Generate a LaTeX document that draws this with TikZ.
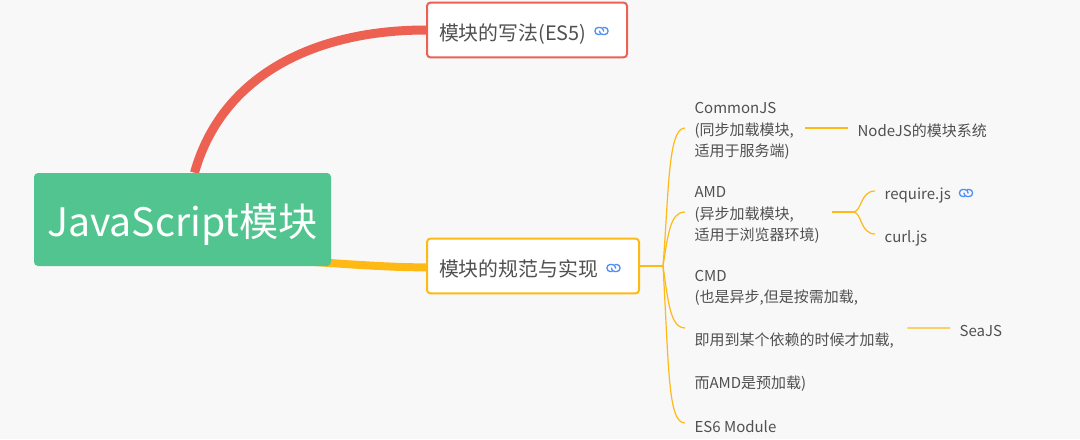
\documentclass[tikz,border=0pt]{standalone}
\usepackage{fontspec}
\setmainfont{Noto Sans CJK SC}
\usetikzlibrary{backgrounds}
\definecolor{bgcolor}{HTML}{F8F8F8}
\definecolor{rootgreen}{HTML}{52C48F}
\definecolor{redline}{HTML}{EC6152}
\definecolor{yellowline}{HTML}{FFB914}
\definecolor{textgrey}{HTML}{505050}
\definecolor{linkblue}{HTML}{4F8EF7}
\tikzstyle{rootbox} = [rectangle, rounded corners=3pt, minimum width=222.75pt, minimum height=69.75pt, inner sep=0pt, fill=rootgreen, text=white, font=\fontsize{29.4pt}{34pt}\selectfont]
\tikzstyle{mainbox} = [rectangle, rounded corners=2.5pt, minimum height=41pt, inner xsep=9pt, align=left, line width=1.5pt, fill=white, text=textgrey, font=\fontsize{14.9pt}{18pt}\selectfont]
\tikzstyle{leaf} = [inner xsep=7pt, inner ysep=0pt, align=left, text=textgrey, font=\fontsize{11.25pt}{16pt}\selectfont]
\tikzstyle{redbranch} = [line width=6.75pt, draw=redline]
\tikzstyle{yellowbranch} = [line width=6pt, draw=yellowline]
\tikzstyle{twig} = [line width=0.9pt, draw=yellowline]
\tikzset{linkicon/.pic={
  \draw [line width=1pt, draw=linkblue, rounded corners=2.4pt] (2,0.5) -- (2,-3.5) -- (-6.5,-3.5) -- (-6.5,3.5) -- (-1,3.5);
  \draw [line width=1pt, draw=linkblue, rounded corners=2.4pt] (-2,-0.5) -- (-2,3.5) -- (6.5,3.5) -- (6.5,-3.5) -- (1,-3.5);
}}

\begin{document}
\begin{tikzpicture}[x=0.75pt, y=-0.75pt]
\useasboundingbox (0,0) rectangle (1080,439);

% main branches
\node (root) [rootbox] at (182.5,219.5) {\raisebox{-13pt}[0pt][0pt]{JavaScript模块}};
\node (write) [mainbox, draw=redline, text width=132pt, anchor=west] at (426,30) {\raisebox{-8pt}[0pt][0pt]{模块的写法(ES5)}};
\node (spec) [mainbox, draw=yellowline, text width=141pt, anchor=west] at (426,266) {\raisebox{-8pt}[0pt][0pt]{模块的规范与实现}};

% leaves
\node (commonjs) [leaf, anchor=west] at (685,131) {CommonJS\\(同步加载模块,\\适用于服务端)};
\node (amd) [leaf, anchor=west] at (685,215) {AMD\\(异步加载模块,\\适用于浏览器环境)};
\node (cmd) [leaf, anchor=west] at (685,330.5) {CMD\\(也是异步,但是按需加载,\\[16.2pt]即用到某个依赖的时候才加载,\\[16.2pt]而AMD是预加载)};
\node (es6) [leaf, anchor=west] at (685,426.5) {ES6 Module};
\node (nodejs) [leaf, anchor=west] at (848,131) {NodeJS的模块系统};
\node (require) [leaf, anchor=west] at (875,195) {require.js};
\node (curl) [leaf, anchor=west] at (875,238) {curl.js};
\node (seajs) [leaf, anchor=west] at (950,331) {SeaJS};
\coordinate (specfork) at (663,266);
\coordinate (amdfork) at (853,212);

\pic at (601.5,31) {linkicon};
\pic at (613.5,268) {linkicon};
\pic at (966,193) {linkicon};

\begin{pgfonlayer}{background}
\fill [bgcolor] (0,0) rectangle (1080,439);
\draw [redbranch] ([xshift=9pt]root.north) .. controls (222,75) and (315,30) .. (write.west);
\draw [yellowbranch] ([xshift=-34.5pt,yshift=4.5pt]root.south east) .. controls (335,263) and (385,267.5) .. ([yshift=-1pt]spec.west);
\end{pgfonlayer}

\draw [twig] (spec.east) -- (specfork);
\draw [twig] (specfork) .. controls (669,190) and (668,128) .. ([yshift=2.25pt]commonjs.west);
\draw [twig] (specfork) .. controls (668,235) and (670,212) .. ([yshift=2.25pt]amd.west);
\draw [twig] (specfork) .. controls (668,300) and (670,328) .. ([yshift=1.9pt]cmd.west);
\draw [twig] (specfork) .. controls (669,370) and (668,423) .. ([yshift=2.6pt]es6.west);
\draw [twig] ([xshift=1.5pt,yshift=2.25pt]commonjs.east) -- ([yshift=2.25pt]nodejs.west);
\draw [twig] ([xshift=2.25pt,yshift=2.25pt]amd.east) -- (amdfork);
\draw [twig] (amdfork) .. controls (862,212) and (860,191) .. ([yshift=3pt]require.west);
\draw [twig] (amdfork) .. controls (862,212) and (860,234) .. ([yshift=3pt]curl.west);
\draw [twig] ([xshift=3pt,yshift=1.9pt]cmd.east) -- ([yshift=2.25pt]seajs.west);

\end{tikzpicture}
\end{document}
